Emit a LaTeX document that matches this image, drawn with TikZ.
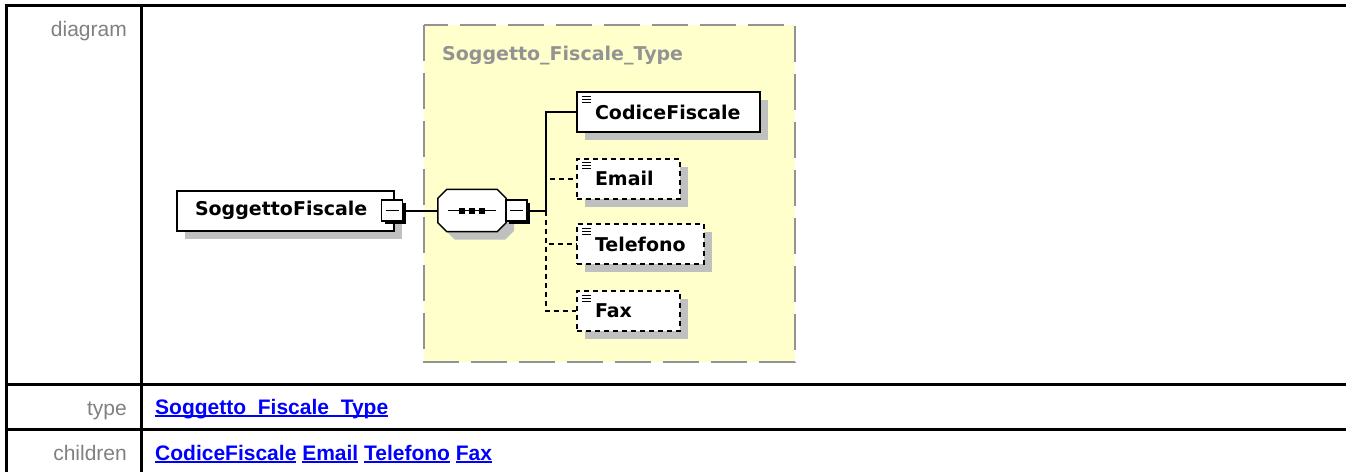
\documentclass[tikz,border=0pt]{standalone}
\usepackage{fontspec}
\setmainfont{Liberation Sans}
\newfontfamily\diagfont{DejaVu Sans}
\usepackage{xcolor}
\usetikzlibrary{shadows}

\definecolor{typeyellow}{HTML}{FFFFCC}
\definecolor{typegray}{HTML}{939393}
\definecolor{shadegray}{HTML}{C0C0C0}
\definecolor{labelgray}{HTML}{808080}
\definecolor{linkblue}{HTML}{0000FF}

% underlined link text
\newcommand{\lnk}[1]{\setbox0\hbox{#1}\rlap{\rule[-3pt]{\wd0}{1.8pt}}\box0\relax}

\begin{document}
\begin{tikzpicture}[x=1pt,y=-1pt,
  box/.style={draw, line width=2pt, fill=white, anchor=west, minimum height=40pt,
    inner xsep=18pt, inner ysep=0pt, text width=#1, align=left,
    font=\diagfont\bfseries\fontsize{19}{22}\selectfont,
    drop shadow={shadow xshift=8pt, shadow yshift=-8pt, fill=shadegray, opacity=1}},
  elem/.style={box=#1,
    path picture={\draw[solid, line width=1pt] foreach \k in {4,7,10}
      {([shift={(5,\k)}]path picture bounding box.north west) -- ++(9,0)};}},
  optelem/.style={elem=#1, dash pattern=on 5pt off 4pt},
  minus/.style={draw, line width=1.2pt, fill=white, minimum size=21pt, inner sep=0pt,
    drop shadow={shadow xshift=3pt, shadow yshift=-3pt, fill=black, opacity=1},
    path picture={\draw[line width=1.5pt] ([xshift=4pt]path picture bounding box.west)
      -- ([xshift=-4pt]path picture bounding box.east);}},
  seqbox/.style={minimum width=68pt, minimum height=42pt, inner sep=0pt},
  conn/.style={line width=2pt},
  optconn/.style={conn, dash pattern=on 5pt off 4pt},
  ttitle/.style={anchor=base west, inner sep=0pt, text=typegray,
    font=\diagfont\bfseries\fontsize{19}{22}\selectfont},
  lbl/.style={anchor=base east, inner sep=0pt, text=labelgray, font=\fontsize{21}{24}\selectfont},
  link/.style={anchor=base west, inner sep=0pt, text=linkblue,
    font=\bfseries\fontsize{21}{24}\selectfont},
  tbl/.style={line width=3pt}]
  \useasboundingbox (0,0) rectangle (1346,472);

  % table rules
  \draw[tbl] (6,3.5) -- (6,472);
  \draw[tbl] (141,5) -- (141,472);
  \draw[tbl] (4.5,5) -- (1346,5);
  \draw[tbl] (4.5,384) -- (1346,384);
  \draw[tbl] (4.5,429) -- (1346,429);

  % row labels
  \node[lbl] (ldiag) at (127,36) {diagram};
  \node[lbl] (ltype) at (127,415) {type};
  \node[lbl] (lchild) at (127,460) {children};

  % complex type area
  \draw[fill=typeyellow, draw=typegray, line width=2pt, dash pattern=on 36pt off 12pt]
    (424,25) rectangle (795,362);
  \node[ttitle] (ttl) at (442,60) {Soggetto\_Fiscale\_Type};

  % element
  \node[box=181pt] (sf) at (176,210.5) {SoggettoFiscale};
  \node[minus] (sfm) at (392,210.5) {};

  % sequence compositor
  \node[seqbox] (seq) at (472,210.5) {};
  \fill[shadegray, transform canvas={shift={(8pt,-8pt)}}]
    ([xshift=9pt]seq.north west) -- ([xshift=-9pt]seq.north east)
    -- ([yshift=-9pt]seq.north east) -- ([yshift=9pt]seq.south east)
    -- ([xshift=-9pt]seq.south east) -- ([xshift=9pt]seq.south west)
    -- ([yshift=9pt]seq.south west) -- ([yshift=-9pt]seq.north west) -- cycle;
  \draw[fill=white, line width=1.5pt] ([xshift=9pt]seq.north west) -- ([xshift=-9pt]seq.north east)
    -- ([yshift=-9pt]seq.north east) -- ([yshift=9pt]seq.south east)
    -- ([xshift=-9pt]seq.south east) -- ([xshift=9pt]seq.south west)
    -- ([yshift=9pt]seq.south west) -- ([yshift=-9pt]seq.north west) -- cycle;
  \draw[line width=1.5pt] ([xshift=-24pt]seq.center) -- ([xshift=24pt]seq.center);
  \foreach \d in {-10,0,10}
    \fill ([xshift=\d pt]seq.center) +(-3,-3) rectangle +(3,3);
  \node[minus] (seqm) at (516.5,210.5) {};
  \coordinate (fork) at (546,210.5);

  % children
  \node[elem=147pt] (cf) at (576,112) {CodiceFiscale};
  \node[optelem=67pt] (email) at (576,178.5) {Email};
  \node[optelem=91pt] (tel) at (576,244) {Telefono};
  \node[optelem=67pt] (fax) at (576,311) {Fax};

  \draw[conn] (sfm.east) -- (seq.west);
  \draw[conn] (seqm.east) -- (fork) |- (cf.west);
  \draw[optconn] (fork) |- (email.west);
  \draw[optconn] (fork) |- (tel.west);
  \draw[optconn] (fork) |- (fax.west);

  % links
  \node[link] (ntype) at (155,414) {\lnk{Soggetto\_Fiscale\_Type}};
  \node[link] (nchild) at (155,460) {\lnk{CodiceFiscale} \lnk{Email} \lnk{Telefono} \lnk{Fax}};
\end{tikzpicture}
\end{document}
